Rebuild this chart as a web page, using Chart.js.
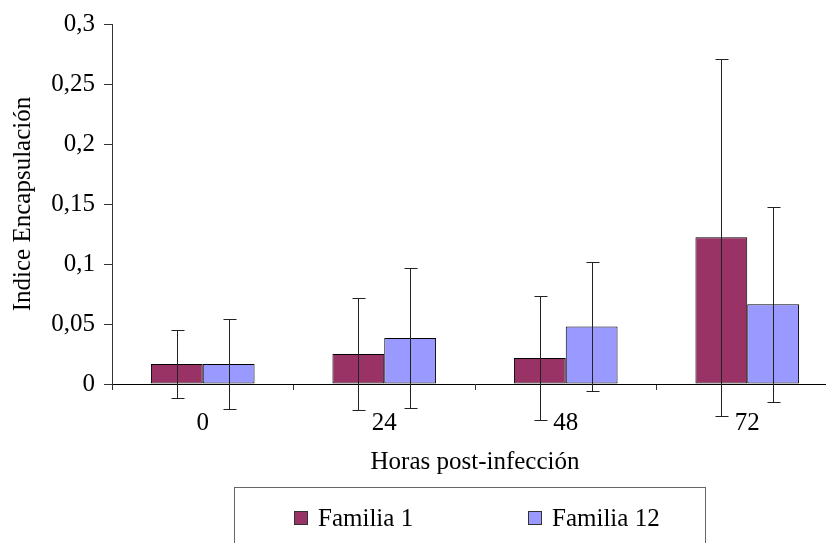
<!DOCTYPE html>
<html>
<head>
<meta charset="utf-8">
<script src="https://cdn.jsdelivr.net/npm/chart.js@4.4.1/dist/chart.umd.min.js"></script>
<style>
  html, body { margin: 0; padding: 0; background: #fff; overflow: hidden; }
  #wrap { width: 840px; height: 543px; }
</style>
</head>
<body>
<div id="wrap"><canvas id="chart"></canvas></div>
<script>
// data
const horas = ["0", "24", "48", "72"];
const familia1 = [0.0167, 0.025, 0.0217, 0.1222];
const familia1Err = [0.028, 0.047, 0.052, 0.149];
const familia12 = [0.0167, 0.0383, 0.048, 0.0664];
const familia12Err = [0.0375, 0.058, 0.054, 0.081];
const yTickLabels = ["0", "0,05", "0,1", "0,15", "0,2", "0,25", "0,3"];

const serif = "'Liberation Serif', 'Times New Roman', serif";
const ink = "#000";

// whiskers: drawn from each bar's own value through the y scale
const errorBars = {
    id: "errorBars",
    afterDatasetsDraw(chart) {
        const ctx = chart.ctx;
        const y = chart.scales.y;
        ctx.save();
        ctx.strokeStyle = "#222";
        ctx.lineWidth = 1;
        chart.data.datasets.forEach((ds, di) => {
            const meta = chart.getDatasetMeta(di);
            meta.data.forEach((bar, i) => {
                const v = ds.data[i];
                const e = ds.errors[i];
                const x = Math.round(bar.x) + 0.5;
                const top = Math.round(y.getPixelForValue(v + e)) + 0.5;
                const bot = Math.round(y.getPixelForValue(v - e)) + 0.5;
                ctx.beginPath();
                ctx.moveTo(x, top); ctx.lineTo(x, bot);
                ctx.moveTo(x - 6, top); ctx.lineTo(x + 7, top);
                ctx.moveTo(x - 6, bot); ctx.lineTo(x + 7, bot);
                ctx.stroke();
            });
        });
        ctx.restore();
    }
};

// framed legend like the original (box runs off the bottom)
const boxLegend = {
    id: "boxLegend",
    afterDraw(chart, args, opts) {
        const ctx = chart.ctx;
        ctx.save();
        ctx.strokeStyle = "#666";
        ctx.lineWidth = 1;
        ctx.strokeRect(opts.left + 0.5, opts.top + 0.5, opts.right - opts.left, 100);
        ctx.font = "25px " + serif;
        ctx.textBaseline = "middle";
        ctx.fillStyle = ink;
        chart.data.datasets.forEach((ds, i) => {
            const x = opts.items[i];
            ctx.fillStyle = ds.backgroundColor;
            ctx.fillRect(x, opts.cy - 7, 14, 14);
            ctx.strokeStyle = "#333";
            ctx.strokeRect(x + 0.5, opts.cy - 6.5, 13, 13);
            ctx.fillStyle = ink;
            ctx.fillText(ds.label, x + 24, opts.cy + 1);
        });
        ctx.restore();
    }
};

new Chart(document.getElementById("chart"), {
    type: "bar",
    data: {
        labels: horas,
        datasets: [
            {
                label: "Familia 1",
                data: familia1,
                errors: familia1Err,
                backgroundColor: "#993366",
                borderColor: "#000",
                borderWidth: 1,
                borderSkipped: false
            },
            {
                label: "Familia 12",
                data: familia12,
                errors: familia12Err,
                backgroundColor: "#9999ff",
                borderColor: "#000",
                borderWidth: 1,
                borderSkipped: false
            }
        ]
    },
    options: {
        responsive: true,
        maintainAspectRatio: false,
        animation: false,
        categoryPercentage: 0.571,
        barPercentage: 1,
        layout: { padding: { top: 22, right: 2, bottom: 66, left: 0 } },
        plugins: {
            legend: { display: false },
            tooltip: { enabled: false },
            boxLegend: { left: 234, right: 705, top: 487, cy: 518, items: [294, 528] }
        },
        scales: {
            x: {
                offset: true,
                grid: {
                    offset: true,
                    drawOnChartArea: false,
                    tickLength: 6,
                    color: "#333"
                },
                border: { color: ink, width: 1 },
                ticks: { color: ink, padding: 18, font: { family: serif, size: 25 } },
                title: {
                    display: true,
                    text: "Horas post-infección",
                    color: ink,
                    padding: { top: -9, bottom: 0 },
                    font: { family: serif, size: 25 }
                }
            },
            y: {
                min: 0,
                max: 0.3,
                afterFit(scale) { scale.width = 112; },
                grid: { drawOnChartArea: false, tickLength: 8, color: "#333" },
                border: { color: "#333", width: 1 },
                ticks: {
                    stepSize: 0.05,
                    padding: 9,
                    color: ink,
                    font: { family: serif, size: 25 },
                    callback: (v, i) => yTickLabels[i]
                },
                title: {
                    display: true,
                    text: "Indice Encapsulación",
                    color: ink,
                    padding: { top: 8, bottom: 4 },
                    font: { family: serif, size: 25 }
                }
            }
        }
    },
    plugins: [errorBars, boxLegend]
});
</script>
</body>
</html>
